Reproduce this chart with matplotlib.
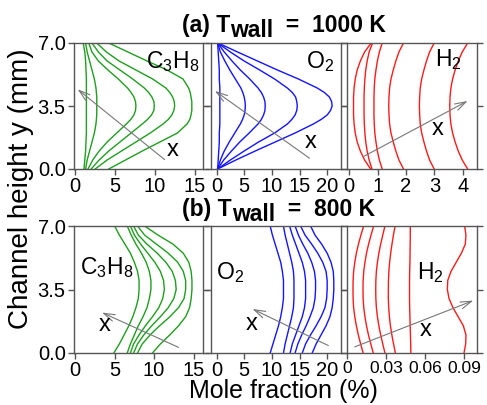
import matplotlib
matplotlib.use('Agg')
import matplotlib.pyplot as plt

plt.rcParams['font.family'] = ['Liberation Sans', 'DejaVu Sans']
plt.rcParams['mathtext.fontset'] = 'custom'
plt.rcParams['mathtext.rm'] = 'Liberation Sans'
plt.rcParams['mathtext.it'] = 'Liberation Sans:italic'
plt.rcParams['mathtext.bf'] = 'Liberation Sans:bold'

# ---------------- data ----------------
# channel height sample points (mm)
y_mm = [0.0, 0.5, 1.0, 1.5, 2.0, 2.5, 3.0, 3.5, 4.0, 4.5, 5.0, 5.5, 6.0, 6.5, 7.0]
y_mm_fine = [0.0, 0.5, 1.0, 1.5, 2.0, 2.5, 2.75, 3.0, 3.25, 3.5, 3.75, 4.0, 4.25, 4.5,
             5.0, 5.5, 6.0, 6.5, 7.0]

# (a) T_wall = 1000 K  (sampled on y_mm_fine for C3H8 / O2)
c3h8_1000 = [
    [1.1, 1.2, 1.3, 1.35, 1.4, 1.4, 1.4, 1.4, 1.4, 1.4, 1.4, 1.4, 1.4, 1.4, 1.4, 1.35, 1.3, 1.2, 1.0],
    [1.3, 1.5, 1.8, 2.1, 2.4, 2.6, 2.65, 2.7, 2.7, 2.7, 2.7, 2.7, 2.65, 2.6, 2.4, 2.1, 1.8, 1.5, 1.3],
    [1.6, 2.2, 3.0, 4.0, 5.2, 6.4, 6.95, 7.35, 7.55, 7.6, 7.55, 7.35, 7.0, 6.55, 5.4, 4.1, 2.9, 2.1, 1.7],
    [2.0, 3.0, 4.2, 5.6, 7.0, 8.4, 9.05, 9.55, 9.85, 9.9, 9.85, 9.6, 9.2, 8.65, 7.2, 5.6, 4.0, 2.9, 2.1],
    [2.5, 4.0, 5.8, 7.6, 9.4, 11.0, 11.65, 12.1, 12.35, 12.45, 12.4, 12.2, 11.85, 11.35, 9.7, 7.6, 5.5, 3.9, 2.7],
    [4.2, 6.3, 8.4, 10.6, 12.8, 14.0, 14.35, 14.5, 14.6, 14.6, 14.6, 14.5, 14.4, 14.2, 13.5, 11.5, 9.0, 6.6, 4.2],
]
o2_1000 = [
    [0.2, 0.3, 0.4, 0.5, 0.5, 0.6, 0.6, 0.6, 0.6, 0.6, 0.6, 0.6, 0.6, 0.6, 0.5, 0.5, 0.4, 0.3, 0.2],
    [0.2, 0.7, 1.4, 2.3, 3.3, 4.3, 4.7, 5.0, 5.15, 5.2, 5.15, 5.0, 4.75, 4.4, 3.4, 2.4, 1.5, 0.7, 0.2],
    [0.2, 1.3, 2.7, 4.2, 5.9, 7.5, 8.1, 8.5, 8.75, 8.8, 8.75, 8.5, 8.1, 7.5, 6.0, 4.3, 2.8, 1.4, 0.2],
    [0.2, 2.5, 5.0, 7.6, 10.5, 12.8, 13.6, 14.2, 14.5, 14.6, 14.5, 14.3, 13.7, 12.8, 10.5, 7.8, 5.0, 2.5, 0.2],
    [0.2, 3.5, 7.0, 10.6, 14.2, 17.5, 18.9, 20.0, 20.6, 20.9, 20.8, 20.4, 19.5, 18.2, 14.8, 11.0, 7.4, 3.8, 0.3],
]
h2_1000 = [
    [0.75, 0.54, 0.39, 0.28, 0.21, 0.17, 0.15, 0.15, 0.15, 0.17, 0.21, 0.28, 0.39, 0.54, 0.77],
    [0.80, 0.70, 0.63, 0.58, 0.55, 0.53, 0.52, 0.52, 0.52, 0.53, 0.55, 0.58, 0.63, 0.70, 0.82],
    [1.16, 1.06, 0.99, 0.94, 0.90, 0.88, 0.87, 0.87, 0.87, 0.88, 0.90, 0.94, 0.99, 1.06, 1.16],
    [1.91, 1.75, 1.64, 1.55, 1.47, 1.42, 1.40, 1.39, 1.40, 1.42, 1.47, 1.55, 1.64, 1.75, 1.91],
    [2.99, 2.83, 2.72, 2.63, 2.55, 2.50, 2.48, 2.47, 2.48, 2.50, 2.55, 2.63, 2.72, 2.83, 2.99],
    [4.17, 3.98, 3.84, 3.73, 3.64, 3.58, 3.55, 3.54, 3.55, 3.58, 3.64, 3.73, 3.84, 3.98, 4.17],
]
# (b) T_wall = 800 K  (sampled on y_mm)
c3h8_800 = [
    [4.9, 5.6, 6.2, 6.8, 7.3, 7.7, 8.0, 8.1, 8.1, 7.9, 7.5, 7.0, 6.3, 5.6, 5.0],
    [6.6, 7.0, 7.5, 8.0, 8.6, 9.1, 9.4, 9.6, 9.6, 9.4, 9.0, 8.4, 7.7, 7.1, 6.6],
    [7.0, 7.4, 8.1, 8.9, 9.8, 10.6, 11.1, 11.3, 11.2, 10.8, 10.1, 9.2, 8.3, 7.5, 7.0],
    [7.4, 7.9, 8.7, 9.7, 10.8, 11.8, 12.5, 12.8, 12.7, 12.3, 11.5, 10.4, 9.1, 8.0, 7.4],
    [7.9, 8.5, 9.5, 10.7, 12.0, 13.1, 13.8, 14.0, 14.0, 13.7, 13.0, 11.8, 10.3, 8.8, 7.9],
    [9.8, 10.8, 12.0, 13.1, 14.0, 14.5, 14.7, 14.8, 14.8, 14.7, 14.4, 13.7, 12.4, 10.5, 8.8],
]
o2_800 = [
    [9.7, 10.2, 10.7, 11.2, 11.6, 11.9, 12.1, 12.1, 12.1, 11.9, 11.6, 11.1, 10.6, 10.1, 9.7],
    [12.1, 12.4, 12.8, 13.2, 13.6, 13.9, 14.0, 14.0, 14.0, 13.9, 13.6, 13.2, 12.8, 12.4, 12.1],
    [13.3, 13.7, 14.3, 14.9, 15.5, 15.9, 16.1, 16.1, 16.1, 15.9, 15.5, 14.9, 14.3, 13.7, 13.2],
    [14.2, 14.7, 15.4, 16.2, 16.9, 17.5, 17.8, 17.9, 17.9, 17.7, 17.2, 16.5, 15.6, 14.8, 14.2],
    [15.5, 16.1, 17.0, 18.0, 18.9, 19.6, 19.9, 20.0, 20.0, 19.8, 19.2, 18.3, 17.2, 16.0, 15.2],
    [17.3, 18.0, 18.9, 19.8, 20.5, 20.9, 21.1, 21.2, 21.2, 21.1, 20.7, 20.0, 19.0, 17.8, 17.0],
]
h2_800 = [
    [0.0124, 0.0105, 0.0087, 0.0072, 0.0060, 0.0051, 0.0047, 0.0046, 0.0047, 0.0051, 0.0060, 0.0072, 0.0088, 0.0107, 0.0128],
    [0.0202, 0.0183, 0.0165, 0.0150, 0.0138, 0.0129, 0.0124, 0.0123, 0.0124, 0.0129, 0.0138, 0.0150, 0.0166, 0.0185, 0.0205],
    [0.0292, 0.0275, 0.0259, 0.0245, 0.0234, 0.0226, 0.0222, 0.0221, 0.0222, 0.0226, 0.0234, 0.0245, 0.0259, 0.0275, 0.0292],
    [0.0372, 0.0358, 0.0345, 0.0334, 0.0326, 0.0321, 0.0318, 0.0318, 0.0319, 0.0322, 0.0328, 0.0336, 0.0346, 0.0357, 0.0370],
    [0.0491, 0.0490, 0.0488, 0.0486, 0.0484, 0.0482, 0.0481, 0.0481, 0.0481, 0.0482, 0.0484, 0.0485, 0.0486, 0.0487, 0.0487],
    [0.0900, 0.0913, 0.0915, 0.0895, 0.0855, 0.0815, 0.0785, 0.0772, 0.0775, 0.0800, 0.0840, 0.0880, 0.0910, 0.0915, 0.0905],
]

y_ticks = [0.0, 3.5, 7.0]
y_ticklabels = ['0.0', '3.5', '7.0']
c3h8_ticks = [0, 5, 10, 15]
o2_ticks = [0, 5, 10, 15, 20]
h2_ticks_1000 = [0, 1, 2, 3, 4]
h2_ticks_800 = [0, 0.03, 0.06, 0.09]
h2_ticklabels_800 = ['0', '0.03', '0.06', '0.09']

titles = ['(a)', '(b)']
temps = ['1000 K', '800 K']

# ---------------- styling / layout ----------------
GREEN = '#1f9e1f'
BLUE = '#1414ff'
RED = '#ff1a1a'
SPINE = '#555555'
ARROW = '#777777'

W, H = 487, 405
fig = plt.figure(figsize=(W / 100, H / 100), dpi=100)

col_px = [(74, 203), (211, 341), (347, 477)]
row_px = [(43, 169), (226, 353)]

panels = [
    # row 0
    dict(data=c3h8_1000, y=y_mm_fine, color=GREEN, xlim=(-0.15, 16.0), ticks=c3h8_ticks, tl=None,
         label=r'C$_3$H$_8$', lpos=(0.97, 0.80), lha='right',
         arrow=((11.2, 0.52), (0.3, 4.43)), xpos=(12.2, 0.75)),
    dict(data=o2_1000, y=y_mm_fine, color=BLUE, xlim=(-1.0, 22.5), ticks=o2_ticks, tl=None,
         label=r'O$_2$', lpos=(0.95, 0.80), lha='right',
         arrow=((16.8, 0.6), (-0.3, 4.34)), xpos=(17.0, 1.15)),
    dict(data=h2_1000, y=y_mm, color=RED, xlim=(-0.08, 4.5), ticks=h2_ticks_1000, tl=None,
         label=r'H$_2$', lpos=(0.88, 0.82), lha='right',
         arrow=((0.52, 0.71), (4.17, 3.78)), xpos=(3.13, 1.9)),
    # row 1
    dict(data=c3h8_800, y=y_mm, color=GREEN, xlim=(-0.15, 16.2), ticks=c3h8_ticks, tl=None,
         label=r'C$_3$H$_8$', lpos=(0.05, 0.62), lha='left',
         arrow=((13.1, 0.31), (3.4, 2.23)), xpos=(3.8, 1.2)),
    dict(data=o2_800, y=y_mm, color=BLUE, xlim=(-1.0, 22.5), ticks=o2_ticks, tl=None,
         label=r'O$_2$', lpos=(0.04, 0.58), lha='left',
         arrow=((20.2, 0.41), (6.5, 2.43)), xpos=(6.4, 1.25)),
    dict(data=h2_800, y=y_mm, color=RED, xlim=(0.0, 0.1), ticks=h2_ticks_800, tl=h2_ticklabels_800,
         label=r'H$_2$', lpos=(0.54, 0.58), lha='left',
         arrow=((0.006, 0.34), (0.0972, 2.89)), xpos=(0.0602, 0.95)),
]

for i, p in enumerate(panels):
    r, c = divmod(i, 3)
    x0, x1 = col_px[c]
    t0, t1 = row_px[r]
    ax = fig.add_axes([x0 / W, 1 - t1 / H, (x1 - x0) / W, (t1 - t0) / H])
    for series in p['data']:
        ax.plot(series, p['y'], color=p['color'], lw=1.0)
    ax.set_xlim(*p['xlim'])
    ax.set_ylim(0, 7)
    ax.set_xticks(p['ticks'])
    if p['tl'] is not None:
        ax.set_xticklabels(p['tl'])
    ax.set_yticks(y_ticks)
    if c == 0:
        ax.set_yticklabels(y_ticklabels)
    else:
        ax.set_yticklabels([])
    for s in ax.spines.values():
        s.set_color(SPINE)
        s.set_linewidth(1.0)
    ax.tick_params(axis='both', direction='out', length=4, width=1.0, color=SPINE,
                   pad=2, labelsize=14.5)
    ax.tick_params(axis='y', right=True)
    if i == 5:
        ax.tick_params(axis='x', labelsize=12.5)
    ax.text(p['lpos'][0], p['lpos'][1], p['label'], transform=ax.transAxes,
            ha=p['lha'], va='baseline', fontsize=16.5)
    ax.annotate('', xy=p['arrow'][1], xytext=p['arrow'][0],
                arrowprops=dict(arrowstyle='->,head_length=0.8,head_width=0.25',
                                color=ARROW, lw=0.8, shrinkA=0, shrinkB=0))
    ax.text(p['xpos'][0], p['xpos'][1], 'x', ha='center', va='baseline', fontsize=17)

# titles with lowered full-size "wall"
renderer = fig.canvas.get_renderer()
title_y_px = [32, 216]
for k in range(2):
    yb = 1 - title_y_px[k] / H
    ta = fig.text(182 / W, yb, titles[k] + ' T', fontsize=16.5, fontweight='bold', va='baseline')
    bb = ta.get_window_extent(renderer=renderer)
    tb = fig.text(bb.x1 / W, yb - 5 / H, 'wall', fontsize=16.5, fontweight='bold', va='baseline')
    bb2 = tb.get_window_extent(renderer=renderer)
    fig.text(bb2.x1 / W, yb, '  =  ' + temps[k], fontsize=16.5, fontweight='bold', va='baseline')

fig.text(0.043, 0.535, 'Channel height y (mm)', rotation=90, ha='center', va='center', fontsize=20)
fig.text(0.583, 0.018, 'Mole fraction (%)', ha='center', va='baseline', fontsize=18)

fig.savefig('out.png', dpi=100)
